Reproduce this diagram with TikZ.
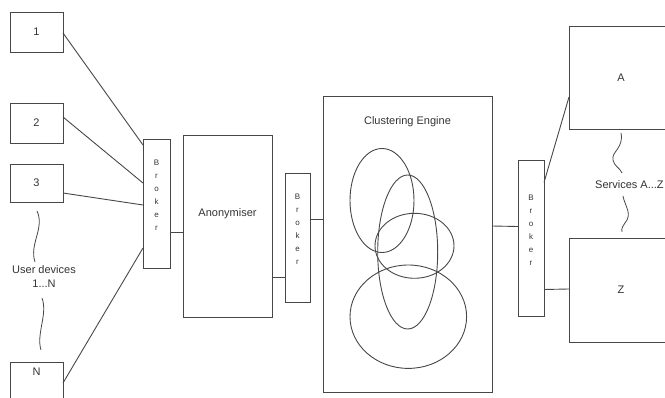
\documentclass[tikz,border=0pt]{standalone}
\usepackage{fontspec}
\setmainfont{Liberation Sans}
\usetikzlibrary{calc}
\newcommand{\brokerlabel}{\raisebox{6.5pt}[0pt][0pt]{\begin{tabular}{@{}c@{}}B\\r\\o\\k\\e\\r\end{tabular}}}
\begin{document}
\begin{tikzpicture}[x=1pt,y=-1pt,
  line/.style={draw=black!72, line width=0.9pt},
  box/.style={line, rectangle, inner sep=0pt, outer sep=0pt,
    font=\fontsize{11}{14}\selectfont, text=black!80},
  brokerbox/.style={box, minimum width=#1,
    font=\fontsize{8}{13}\selectfont},
  link/.style={line},
  wave/.style={draw=black!72, line width=0.8pt}
]
\useasboundingbox (0,0) rectangle (665,398);
\clip (0,0) rectangle (665,398);

% user devices
\node[box, minimum width=53pt, minimum height=40pt] (d1) at (36.5,32) {1};
\node[box, minimum width=53pt, minimum height=40pt] (d2) at (36.5,123) {2};
\node[box, minimum width=53pt, minimum height=38pt] (d3) at (36.5,183) {3};
\node[box, minimum width=53pt, minimum height=40pt, text height=8pt, text depth=20pt]
  (dN) at (36.5,382) {N};
\node[font=\fontsize{11}{14}\selectfont, text=black!80, align=center, inner sep=0pt]
  (users) at (44,277) {User devices\\1...N};

% brokers
\node[brokerbox=27pt, minimum height=129pt] (br1) at (156.5,203.5) {\brokerlabel};
\node[brokerbox=25pt, minimum height=129pt] (br2) at (297.5,237.5) {\brokerlabel};
\node[brokerbox=26pt, minimum height=156pt] (br3) at (531,238.5) {\brokerlabel};

% anonymiser
\node[box, minimum width=89pt, minimum height=182pt, text height=8pt, text depth=26pt]
  (anon) at (227.5,226) {Anonymiser};

% clustering engine with overlapping clusters
\node[box, minimum width=169pt, minimum height=296pt,
  label={[anchor=north, inner sep=0pt, yshift=-20pt, font=\fontsize{11}{14}\selectfont, text=black!80]north:Clustering Engine}]
  (clust) at (407.5,244) {};
\draw[line] (382,200.5) ellipse [x radius=32pt, y radius=52pt];
\draw[line] (407.7,252) ellipse [x radius=30pt, y radius=77pt];
\draw[line] (414.5,245.8) ellipse [x radius=39.5pt, y radius=32.5pt];
\draw[line] (408.3,316.7) ellipse [x radius=58.3pt, y radius=51.7pt];

% services
\node[box, minimum width=104pt, minimum height=103pt] (svA) at (621,77.5) {A};
\node[box, minimum width=104pt, minimum height=104pt] (svZ) at (621,290) {Z};
\node[font=\fontsize{11}{14}\selectfont, text=black!80, anchor=west, inner sep=0pt]
  (services) at (595,185) {Services A...Z};

% connectors
\draw[link] ($(d1.north east)+(0,21)$) -- ($(br1.north west)+(0,6)$);
\draw[link] ($(d2.north east)+(0,14)$) -- ($(br1.north west)+(0,44)$);
\draw[link] ($(d3.north east)+(0,29)$) -- ($(br1.north west)+(0,66)$);
\draw[link] ($(dN.north east)+(0,21)$) -- ($(br1.north west)+(0,109)$);
\draw[link] ($(br1.north east)+(0,93)$) -- ($(anon.north west)+(0,97)$);
\draw[link] ($(anon.north east)+(0,142)$) -- ($(br2.north west)+(0,104)$);
\draw[link] ($(br2.north east)+(0,46)$) -- ($(clust.north west)+(0,123)$);
\draw[link] ($(clust.north east)+(0,130)$) -- ($(br3.north west)+(0,66)$);
\draw[link] ($(br3.north east)+(0,22)$) -- ($(svA.north west)+(0,71)$);
\draw[link] ($(br3.north east)+(0,129)$) -- ($(svZ.north west)+(0,51)$);

% wavy range marks
\coordinate (uw1) at (37,211);
\coordinate (uw2) at (35,262);
\coordinate (uw3) at (42,298);
\coordinate (uw4) at (41,350);
\draw[wave] (uw1) .. controls (45,228) and (29,244) .. (uw2);
\draw[wave] (uw3) .. controls (48,314) and (36,334) .. (uw4);
\coordinate (sw1) at (621,133);
\coordinate (sw2) at (622,173);
\coordinate (sw3) at (623,196);
\coordinate (sw4) at (622,232);
\draw[wave] (sw1) .. controls (624,148) and (611,152) .. (613,160) .. controls (614,166) and (620,168) .. (sw2);
\draw[wave] (sw3) .. controls (625,206) and (631,212) .. (627,220) .. controls (623,226) and (621,228) .. (sw4);
\end{tikzpicture}
\end{document}
